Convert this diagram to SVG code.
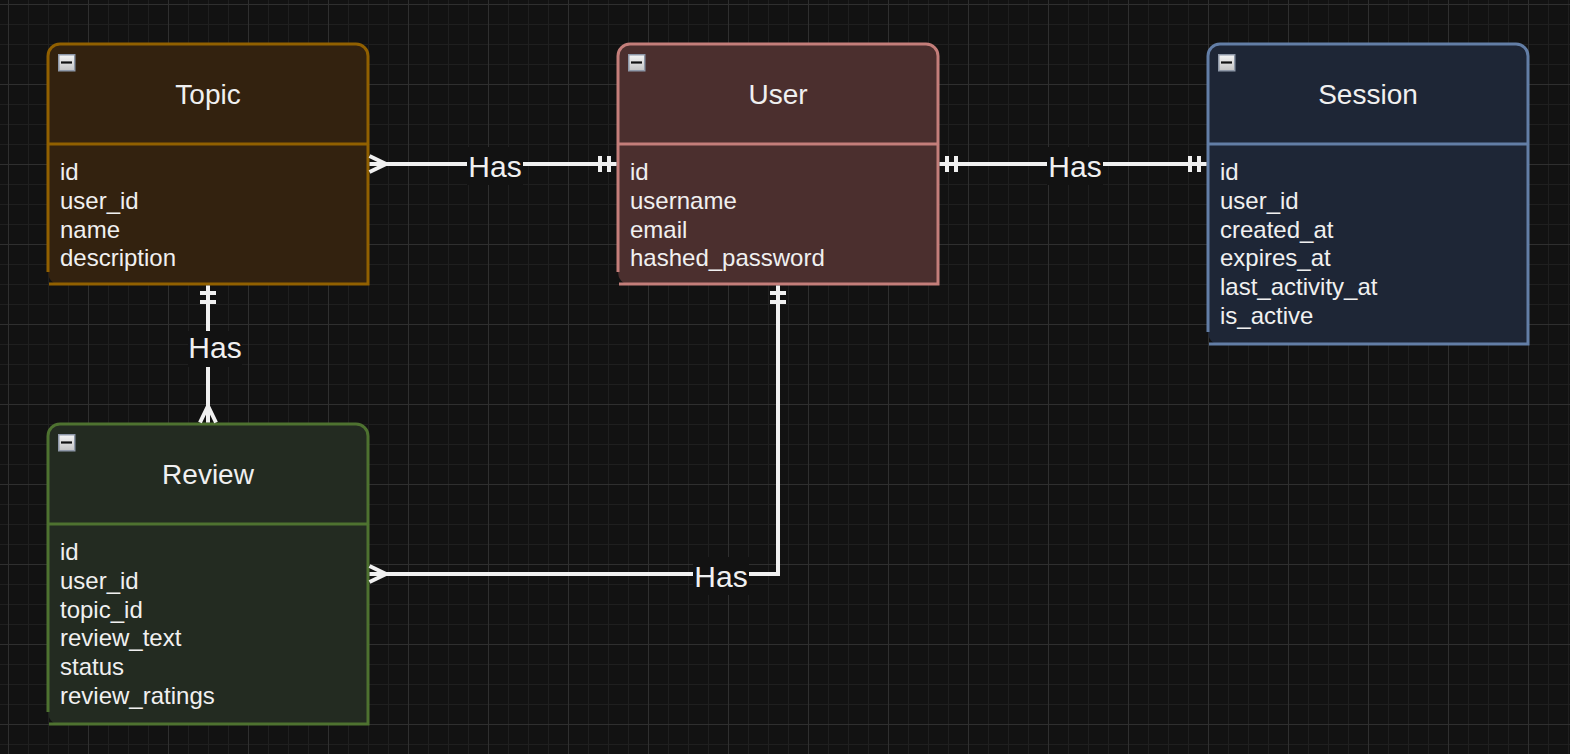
<svg xmlns="http://www.w3.org/2000/svg" xmlns:xlink="http://www.w3.org/1999/xlink" width="1570" height="754" viewBox="0 0 1570 754">
  <style>
    text { font-family: "Liberation Sans", Arial, Helvetica, sans-serif; fill: #f0f0f0; }
    .title { font-size: 28px; text-anchor: middle; }
    .attr { font-size: 24px; }
    .lbl { font-size: 30px; text-anchor: middle; }
    .lblbg { fill: #121212; }
    .edge { fill: none; stroke: #f0f0f0; stroke-width: 4; }
    .outline { fill: none; stroke-width: 3; }
  </style>
  <defs>
    <pattern id="minor" x="8" y="4" width="20" height="20" patternUnits="userSpaceOnUse">
      <path d="M0 0.5 H20 M0.5 0 V20" fill="none" stroke="#1f1f1f" stroke-width="1"/>
    </pattern>
    <pattern id="major" x="8" y="4" width="80" height="80" patternUnits="userSpaceOnUse">
      <path d="M0 0.5 H80 M0.5 0 V80" fill="none" stroke="#2f2f2f" stroke-width="1"/>
    </pattern>
    <linearGradient id="ig" x1="0" y1="0" x2="0" y2="1">
      <stop offset="0" stop-color="#f6f6f6"/>
      <stop offset="1" stop-color="#c2c2c2"/>
    </linearGradient>
    <g id="collapse">
      <rect x="0.75" y="0.75" width="16" height="16" fill="url(#ig)" stroke="#8e98a8" stroke-width="1.5"/>
      <rect x="3" y="7.4" width="11" height="2.2" fill="#111111"/>
    </g>
  </defs>

  <rect width="1570" height="754" fill="#121212"/>
  <rect width="1570" height="754" fill="url(#minor)"/>
  <rect width="1570" height="754" fill="url(#major)"/>

  <g id="topic">
    <path d="M48 272 V56 A12 12 0 0 1 60 44 H356 A12 12 0 0 1 368 56 V284 H58 A10 12 0 0 1 48 272 Z" fill="#33220f"/>
    <path class="outline" stroke="#916000" d="M48 272 V56 A12 12 0 0 1 60 44 H356 A12 12 0 0 1 368 56 V284 H49"/>
    <path class="outline" stroke="#916000" d="M48 144 H368"/>
    <use xlink:href="#collapse" x="58" y="54"/>
    <text class="title" x="208" y="104">Topic</text>
    <text class="attr" x="60" y="180">id</text>
    <text class="attr" x="60" y="208.8">user_id</text>
    <text class="attr" x="60" y="237.6">name</text>
    <text class="attr" x="60" y="266.4">description</text>
  </g>

  <g id="user">
    <path d="M618 272 V56 A12 12 0 0 1 630 44 H926 A12 12 0 0 1 938 56 V284 H628 A10 12 0 0 1 618 272 Z" fill="#4b2f2e"/>
    <path class="outline" stroke="#c47e7a" d="M618 272 V56 A12 12 0 0 1 630 44 H926 A12 12 0 0 1 938 56 V284 H619"/>
    <path class="outline" stroke="#c47e7a" d="M618 144 H938"/>
    <use xlink:href="#collapse" x="628" y="54"/>
    <text class="title" x="778" y="104">User</text>
    <text class="attr" x="630" y="180">id</text>
    <text class="attr" x="630" y="208.8">username</text>
    <text class="attr" x="630" y="237.6">email</text>
    <text class="attr" x="630" y="266.4">hashed_password</text>
  </g>

  <g id="session">
    <path d="M1208 332 V56 A12 12 0 0 1 1220 44 H1516 A12 12 0 0 1 1528 56 V344 H1218 A10 12 0 0 1 1208 332 Z" fill="#1e2636"/>
    <path class="outline" stroke="#637ea6" d="M1208 332 V56 A12 12 0 0 1 1220 44 H1516 A12 12 0 0 1 1528 56 V344 H1209"/>
    <path class="outline" stroke="#637ea6" d="M1208 144 H1528"/>
    <use xlink:href="#collapse" x="1218" y="54"/>
    <text class="title" x="1368" y="104">Session</text>
    <text class="attr" x="1220" y="180">id</text>
    <text class="attr" x="1220" y="208.8">user_id</text>
    <text class="attr" x="1220" y="237.6">created_at</text>
    <text class="attr" x="1220" y="266.4">expires_at</text>
    <text class="attr" x="1220" y="295.2">last_activity_at</text>
    <text class="attr" x="1220" y="324">is_active</text>
  </g>

  <g id="review">
    <path d="M48 712 V436 A12 12 0 0 1 60 424 H356 A12 12 0 0 1 368 436 V724 H58 A10 12 0 0 1 48 712 Z" fill="#232b21"/>
    <path class="outline" stroke="#4e7230" d="M48 712 V436 A12 12 0 0 1 60 424 H356 A12 12 0 0 1 368 436 V724 H49"/>
    <path class="outline" stroke="#4e7230" d="M48 524 H368"/>
    <use xlink:href="#collapse" x="58" y="434"/>
    <text class="title" x="208" y="484">Review</text>
    <text class="attr" x="60" y="560">id</text>
    <text class="attr" x="60" y="588.8">user_id</text>
    <text class="attr" x="60" y="617.6">topic_id</text>
    <text class="attr" x="60" y="646.4">review_text</text>
    <text class="attr" x="60" y="675.2">status</text>
    <text class="attr" x="60" y="704">review_ratings</text>
  </g>

  <g id="connectors">
    <g id="edge-topic-user">
      <path class="edge" d="M369.5 164 H616.5"/>
      <path class="edge" d="M369.5 156 L386 164 L369.5 172"/>
      <path class="edge" d="M600 156 V172 M609 156 V172"/>
      <rect class="lblbg" x="467" y="147" width="56" height="38"/>
      <text class="lbl" x="495" y="177">Has</text>
    </g>
    <g id="edge-user-session">
      <path class="edge" d="M939.5 164 H1206.5"/>
      <path class="edge" d="M947 156 V172 M956 156 V172"/>
      <path class="edge" d="M1190 156 V172 M1199 156 V172"/>
      <rect class="lblbg" x="1047" y="147" width="56" height="38"/>
      <text class="lbl" x="1075" y="177">Has</text>
    </g>
    <g id="edge-topic-review">
      <path class="edge" d="M208 285.5 V422.5"/>
      <path class="edge" d="M200 293 H216 M200 302 H216"/>
      <path class="edge" d="M200 422.5 L208 406 L216 422.5"/>
      <rect class="lblbg" x="188" y="331" width="54" height="36"/>
      <text class="lbl" x="215" y="358">Has</text>
    </g>
    <g id="edge-user-review">
      <path class="edge" d="M778 285.5 V574 H369.5"/>
      <path class="edge" d="M770 293 H786 M770 302 H786"/>
      <path class="edge" d="M369.5 566 L386 574 L369.5 582"/>
      <rect class="lblbg" x="693" y="557" width="56" height="38"/>
      <text class="lbl" x="721" y="587">Has</text>
    </g>
  </g>
</svg>
